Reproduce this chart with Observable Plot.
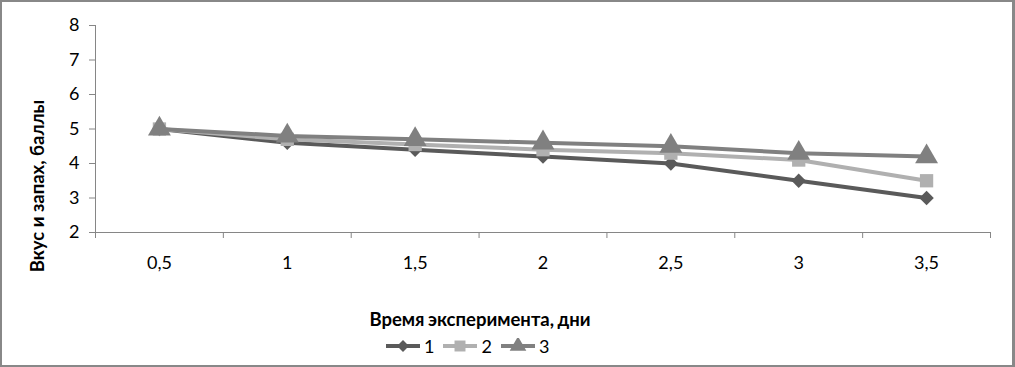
<!DOCTYPE html>
<html><head><meta charset="utf-8">
<script src="https://cdn.jsdelivr.net/npm/d3@7"></script>
<script src="https://cdn.jsdelivr.net/npm/@observablehq/plot@0.6"></script>
<style>
body{margin:0;background:#fff;}
#wrap{position:relative;width:1015px;height:367px;box-sizing:border-box;border:2px solid #888;border-right-width:3px;overflow:hidden;font-family:Lato,"Open Sans",sans-serif;}
#chart{position:absolute;left:0;top:0;}
.ytitle{position:absolute;left:35px;top:184px;transform:translate(-50%,-50%) rotate(-90deg);font-weight:bold;font-size:18.5px;white-space:nowrap;color:#000;}
.xtitle{position:absolute;left:478px;top:317px;transform:translate(-50%,-50%);font-weight:bold;font-size:18.5px;white-space:nowrap;word-spacing:-1px;color:#000;}
#legend{position:absolute;left:383px;top:333px;display:flex;align-items:center;font-size:18px;color:#000;}
#legend .item{display:flex;align-items:center;margin-right:8px;}
#legend svg{display:block;margin-right:3px;}
</style></head>
<body><div id="wrap"><div id="chart"></div><div class="ytitle">Вкус и запах, баллы</div><div class="xtitle">Время эксперимента, дни</div><div id="legend"></div></div>
<script>
const days = [0.5, 1, 1.5, 2, 2.5, 3, 3.5];
const series1 = [5, 4.6, 4.4, 4.2, 4.0, 3.5, 3.0];
const series2 = [5, 4.7, 4.55, 4.4, 4.3, 4.1, 3.5];
const series3 = [5, 4.8, 4.7, 4.6, 4.5, 4.3, 4.2];
const seriesNames = ["1", "2", "3"];
const yTicks = [2, 3, 4, 5, 6, 7, 8];
const xBoundaries = [0.25, 0.75, 1.25, 1.75, 2.25, 2.75, 3.25, 3.75];

const colors = ["#5a5a5a", "#b0b0b0", "#808080"];
const symbols = ["diamond2", "square", "triangle"];
const radii = [6.5, 7.5, 8.5];
const allSeries = [series1, series2, series3];
const tables = allSeries.map((vals, i) => days.map((d, j) => ({day: d, value: vals[j], s: seriesNames[i]})));

const fmt = d => String(d).replace(".", ",");
const axisColor = "#868686";

const marks = [
  Plot.frame({anchor: "left", stroke: axisColor}),
  Plot.frame({anchor: "bottom", stroke: axisColor}),
  Plot.axisY({ticks: yTicks, tickSize: 6, tickPadding: 10, tickFormat: fmt, stroke: axisColor, fill: "#000", fontSize: 18, label: null}),
  Plot.axisX({ticks: xBoundaries, tickSize: 6, tickFormat: () => "", stroke: axisColor, label: null}),
  Plot.axisX({ticks: days, tickSize: 0, tickPadding: 24, tickFormat: fmt, fill: "#000", fontSize: 18, label: null})
];
tables.forEach((t, i) => {
  marks.push(Plot.line(t, {x: "day", y: "value", stroke: colors[i], strokeWidth: 4}));
  marks.push(Plot.dot(t, {x: "day", y: "value", symbol: () => symbols[i], r: radii[i], fill: colors[i], stroke: "none"}));
});

const chart = Plot.plot({
  width: 1010, height: 300,
  marginLeft: 93, marginRight: 22, marginTop: 23, marginBottom: 70,
  x: {type: "linear", domain: [0.25, 3.75]},
  y: {domain: [2, 8]},
  symbol: {type: "identity"},
  style: {fontFamily: "Lato, 'Open Sans', sans-serif", background: "transparent"},
  marks
});
document.getElementById("chart").appendChild(chart);

// legend
const legend = d3.select("#legend");
seriesNames.forEach((name, i) => {
  const item = legend.append("div").attr("class", "item");
  const svg = item.append("svg").attr("width", 36).attr("height", 16);
  svg.append("line").attr("x1", 1).attr("x2", 35).attr("y1", 8).attr("y2", 8).attr("stroke", colors[i]).attr("stroke-width", 4);
  const symType = [d3.symbolDiamond2, d3.symbolSquare, d3.symbolTriangle][i];
  svg.append("path").attr("d", d3.symbol(symType, [90, 120, 120][i])()).attr("transform", "translate(18,8)").attr("fill", colors[i]);
  item.append("span").text(name);
});
</script></body></html>
